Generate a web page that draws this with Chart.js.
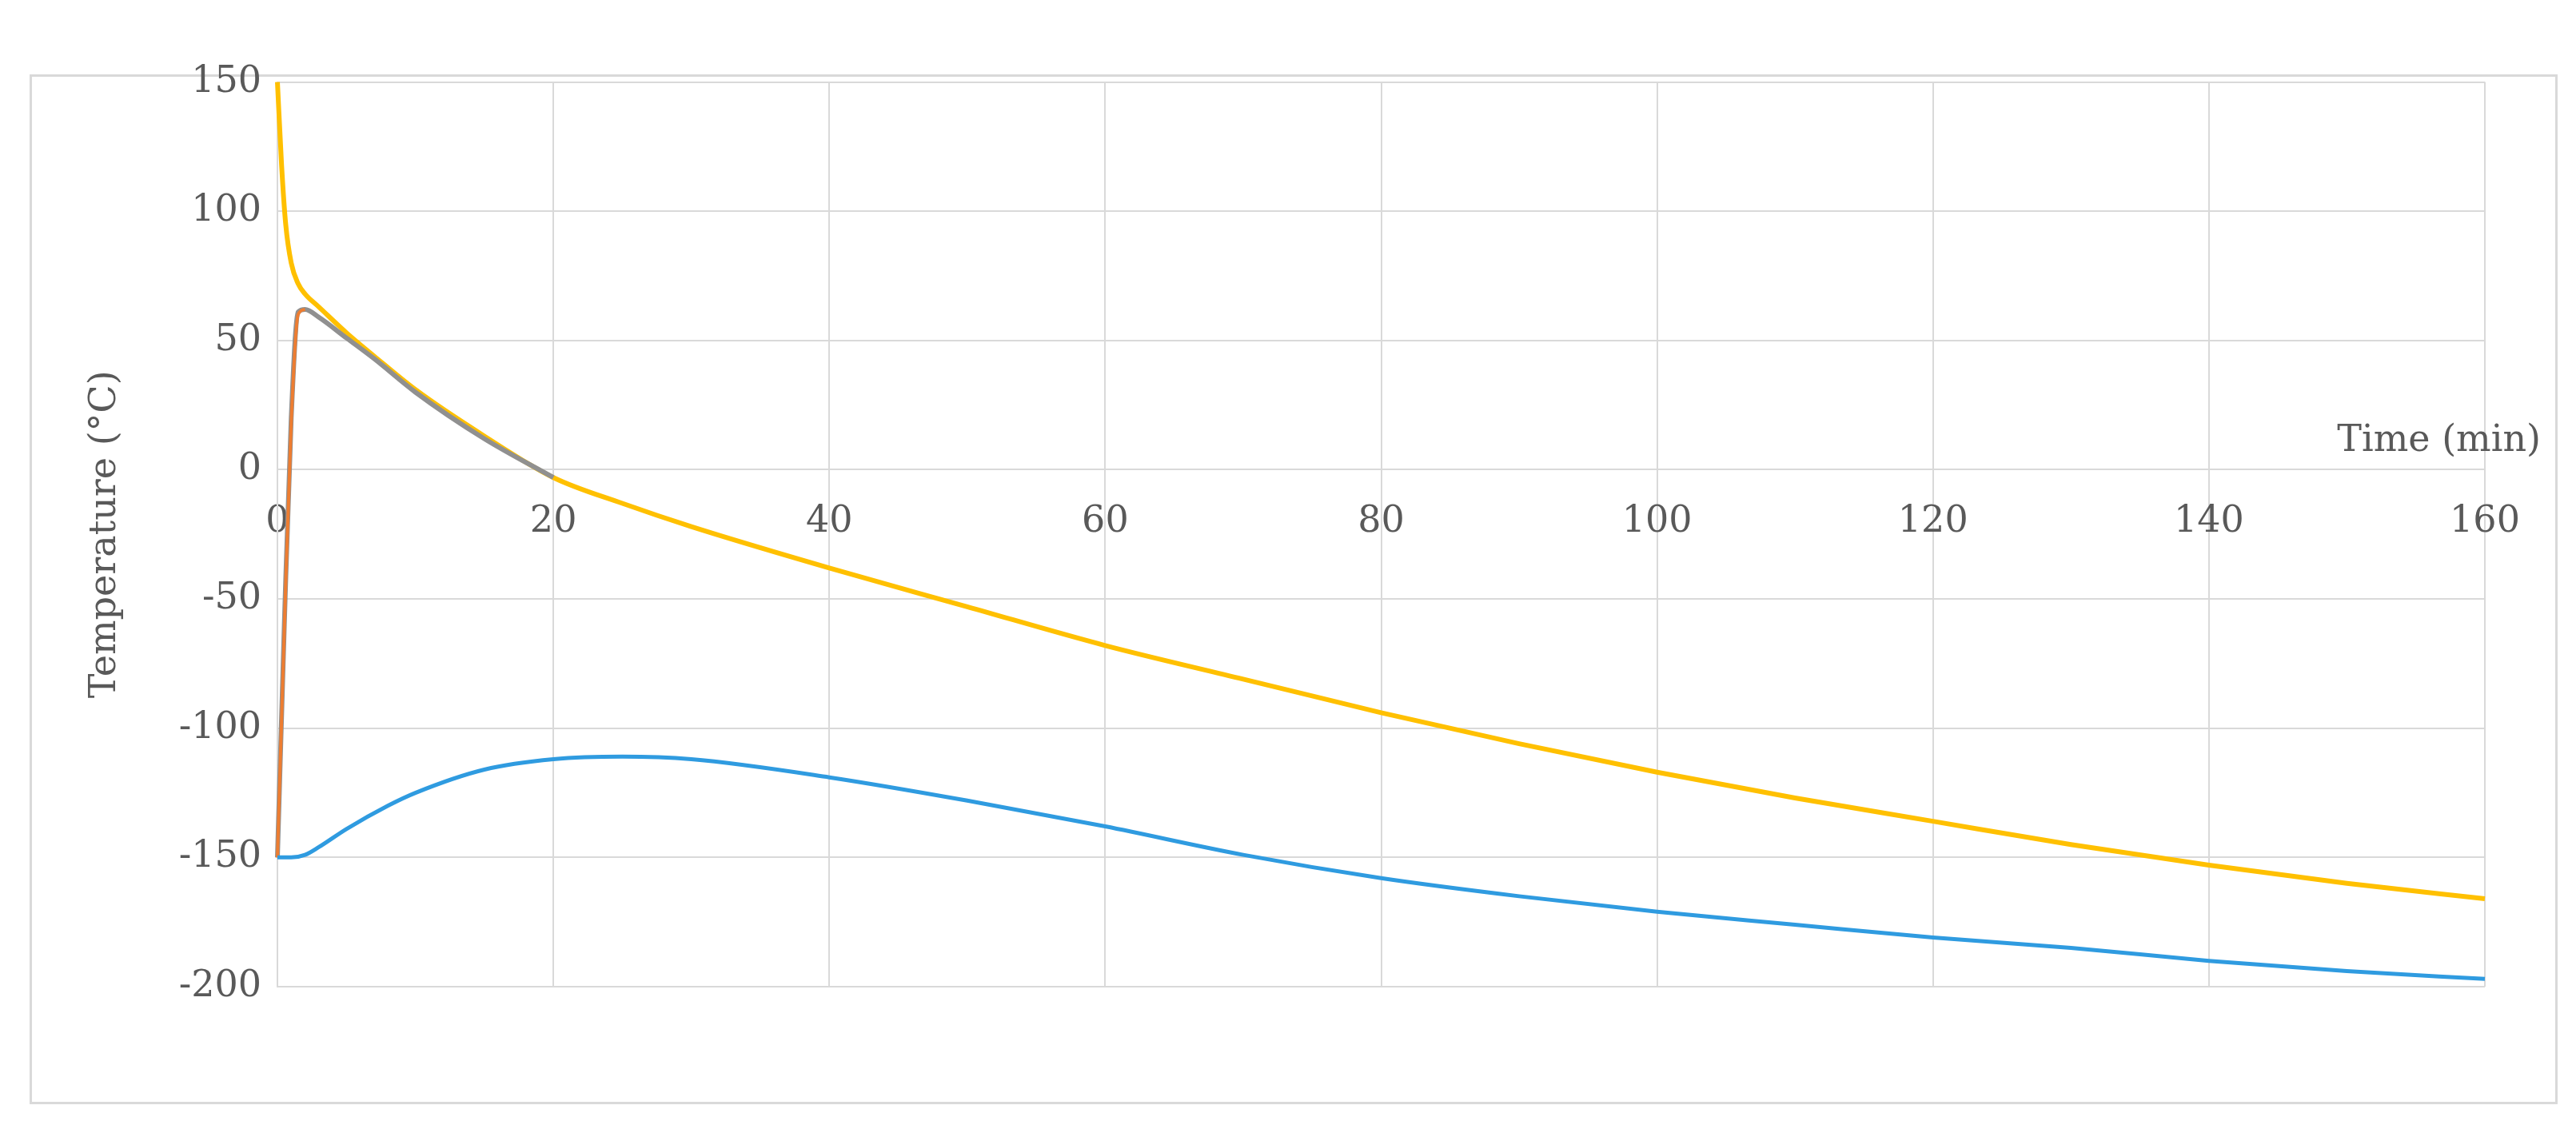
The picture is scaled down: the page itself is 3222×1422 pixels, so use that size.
<!DOCTYPE html>
<html>
<head>
<meta charset="utf-8">
<script src="https://cdn.jsdelivr.net/npm/chart.js@4"></script>
<style>
  body { margin: 0; background: #fff; }
  #box { position: absolute; left: 37px; top: 93px; width: 3156px; height: 1282px; border: 3px solid #d9d9d9; }
  #wrap { position: absolute; left: 40px; top: 55px; width: 3156px; height: 1315px; }
</style>
</head>
<body>
<div id="box"></div>
<div id="wrap"><canvas id="c"></canvas></div>
<script>
// time (min) and temperatures (°C)
const yellowT = [0, 0.3, 0.6, 1, 1.5, 2, 3, 5, 7, 10, 15, 20, 25, 30, 40, 50, 60, 70, 80, 90, 100, 110, 120, 130, 140, 150, 160];
const yellowV = [150, 118, 95, 80, 72, 68, 63, 53, 44, 31, 13, -3, -13, -22, -38, -53, -68, -81, -94, -106, -117, -127, -136, -145, -153, -160, -166];
const grayT = [0, 0.5, 1, 1.5, 2, 3, 5, 7, 10, 15, 20];
const grayV = [-150, -60, 20, 61, 62, 59, 51, 43, 30, 12, -3];
const orangeT = [0, 0.5, 1, 1.5, 2];
const orangeV = [-150, -62, 18, 60, 62];
const blueT = [0, 1, 2, 3, 5, 8, 10, 15, 20, 25, 30, 40, 50, 60, 70, 80, 90, 100, 110, 120, 130, 140, 150, 160];
const blueV = [-150, -150, -149, -146, -139, -130, -125, -116, -112, -111, -112, -119, -128, -138, -149, -158, -165, -171, -176, -181, -185, -190, -194, -197];
const xTicks = [0, 20, 40, 60, 80, 100, 120, 140, 160];

function pts(t, v) { return t.map((x, i) => ({x: x, y: v[i]})); }

const font = {family: 'DejaVu Serif', size: 46};
const timeTitle = {
  id: 'timeTitle',
  afterDraw(chart) {
    const ctx = chart.ctx, x = chart.scales.x, y = chart.scales.y;
    ctx.save();
    ctx.font = '46px DejaVu Serif';
    ctx.fillStyle = '#595959';
    ctx.textAlign = 'right';
    ctx.textBaseline = 'bottom';
    ctx.fillText('Time (min)', x.right + 70, y.getPixelForValue(0) - 12);
    ctx.restore();
  }
};

new Chart(document.getElementById('c'), {
  type: 'line',
  data: {
    datasets: [
      {data: pts(blueT, blueV), borderColor: '#2f9be0', borderWidth: 5},
      {data: pts(orangeT, orangeV), borderColor: '#ED7D31', borderWidth: 4},
      {data: pts(grayT, grayV), borderColor: '#909090', borderWidth: 6},
      {data: pts(yellowT, yellowV), borderColor: '#FFC000', borderWidth: 6}
    ]
  },
  options: {
    responsive: true,
    maintainAspectRatio: false,
    animation: false,
    clip: false,
    elements: {point: {radius: 0}, line: {cubicInterpolationMode: 'monotone'}},
    plugins: {legend: {display: false}, tooltip: {enabled: false}},
    layout: {padding: {left: 60, top: 6, right: 88, bottom: 136}},
    scales: {
      x: {
        type: 'linear', position: {y: 0}, min: 0, max: 160,
        afterBuildTicks: s => { s.ticks = xTicks.map(v => ({value: v})); },
        grid: {color: '#d9d9d9', lineWidth: 2, drawTicks: false},
        border: {color: '#d9d9d9', width: 2},
        ticks: {font: font, color: '#595959', padding: 38, maxRotation: 0}
      },
      y: {
        min: -200, max: 150,
        afterFit: s => { s.width = 247; },
        grid: {color: '#d9d9d9', lineWidth: 2, drawTicks: false},
        border: {color: '#d9d9d9', width: 2},
        ticks: {stepSize: 50, font: font, color: '#595959', padding: 20},
        title: {display: true, text: 'Temperature (°C)', font: font, color: '#595959'}
      }
    }
  },
  plugins: [timeTitle]
});
</script>
</body>
</html>
